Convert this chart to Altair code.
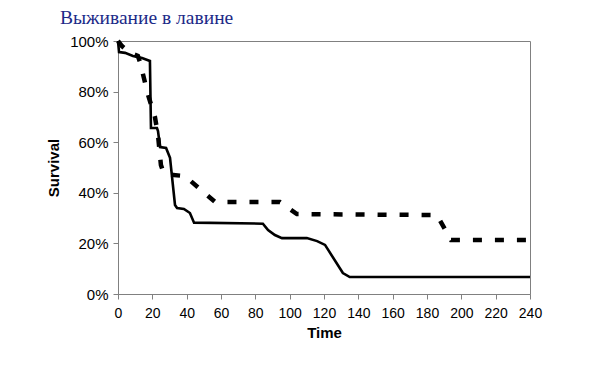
import altair as alt
import pandas as pd

# Solid curve (time, survival %)
solid_t = [0, 0.6, 4.1, 8.7, 14, 18.6, 19.2, 22.7, 23.3, 24.5, 28, 30.3, 33.2, 34.4, 38.4, 41.9, 44.3,
           84.4, 87.4, 91.4, 95.5, 110, 116, 120.6, 131, 135, 240]
solid_v = [100, 95.6, 95.3, 94.1, 93.3, 92.1, 65.6, 65.6, 64.4, 58.1, 57.7, 53.8, 35.2, 34, 33.6, 32, 28.2,
           27.8, 25.3, 23.3, 22.1, 22.1, 20.9, 19.4, 8.3, 6.7, 6.7]

# Dashed curve (time, survival %)
dash_t = [0, 2.3, 7, 11.6, 12.8, 17.5, 21.5, 23.3, 25, 26.8, 39, 56.5, 94.3, 104.2, 185.8, 194, 240]
dash_v = [100, 98, 95.3, 94.1, 91.7, 78.7, 70, 62.8, 51, 47.4, 46.6, 36.4, 36.4, 31.6, 31.2, 21.3, 21.3]

solid = pd.DataFrame({"Time": solid_t, "Survival": [v / 100 for v in solid_v], "o": range(len(solid_t))})
dashed = pd.DataFrame({"Time": dash_t, "Survival": [v / 100 for v in dash_v], "o": range(len(dash_t))})

x = alt.X("Time:Q", scale=alt.Scale(domain=[0, 240], nice=False),
          axis=alt.Axis(values=list(range(0, 241, 20)), title="Time", grid=False, labelOverlap=False,
                        labelFlush=False,
                        labelFontSize=14, labelPadding=7, titleFontSize=15, titlePadding=5))
y = alt.Y("Survival:Q", scale=alt.Scale(domain=[0, 1], nice=False),
          axis=alt.Axis(values=[0, 0.2, 0.4, 0.6, 0.8, 1.0], format=".0%", title="Survival", grid=False,
                        labelOverlap=False, labelFlush=False,
                        labelFontSize=15, labelPadding=5, titleFontSize=15, titlePadding=8))

solid_line = alt.Chart(solid).mark_line(color="black", strokeWidth=2.6).encode(x=x, y=y, order="o:Q")
dashed_line = alt.Chart(dashed).mark_line(color="black", strokeWidth=4.5, strokeDash=[9, 13]).encode(
    x=x, y=y, order="o:Q")

chart = alt.layer(dashed_line, solid_line).properties(
    width=412, height=253,
    autosize=alt.AutoSizeParams(type="none"),
    padding={"left": 110, "top": 33, "right": 58, "bottom": 60},
    title=alt.TitleParams("Выживание в лавине", anchor="start", frame="group", dx=-58, dy=11, offset=15,
                          font="Liberation Serif", fontSize=19.5, fontWeight="normal", color="#1c2a88"),
).configure_view(stroke="#808080", strokeWidth=1).configure_axis(
    domainColor="#808080", tickColor="#808080", tickSize=5, labelColor="black", titleColor="black",
    labelFont="Liberation Sans", titleFont="Liberation Sans", titleFontWeight="bold"
)

chart.save("out.html", embed_options={"renderer": "svg", "actions": False})
